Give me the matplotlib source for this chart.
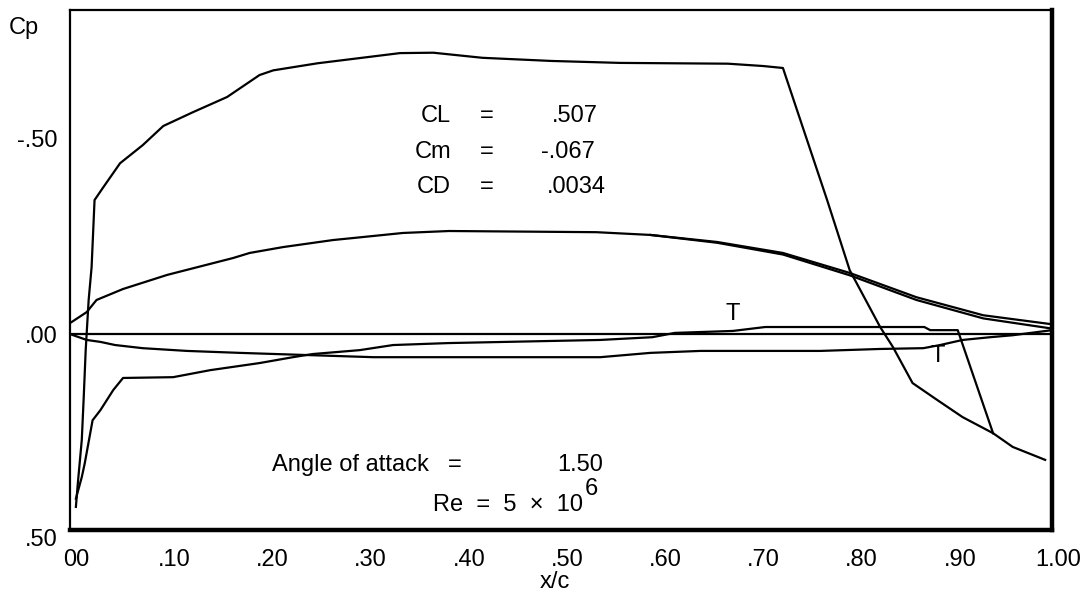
import matplotlib
matplotlib.use('Agg')
import matplotlib.pyplot as plt
import matplotlib.transforms as mtransforms

plt.rcParams['font.family'] = ['Liberation Sans', 'DejaVu Sans']

# upper surface Cp
x_cp_up = [0.006, 0.008, 0.012, 0.014, 0.016, 0.019, 0.022, 0.025, 0.034, 0.051,
           0.074, 0.095, 0.125, 0.16, 0.193, 0.207, 0.252, 0.336, 0.37, 0.42,
           0.49, 0.56, 0.67, 0.706, 0.726, 0.771, 0.794, 0.825, 0.838, 0.858,
           0.883, 0.909, 0.94, 0.96, 0.993]
cp_up = [0.441, 0.38, 0.27, 0.16, 0.04, -0.087, -0.171, -0.342, -0.375, -0.436,
         -0.482, -0.531, -0.566, -0.605, -0.661, -0.673, -0.691, -0.717, -0.718, -0.705,
         -0.697, -0.692, -0.690, -0.684, -0.679, -0.342, -0.163, -0.018, 0.033, 0.125,
         0.168, 0.212, 0.253, 0.288, 0.321]

# lower surface Cp
x_cp_lo = [0.006, 0.012, 0.015, 0.023, 0.031, 0.044, 0.054, 0.105, 0.143, 0.193,
           0.227, 0.247, 0.295, 0.329, 0.385, 0.54, 0.593, 0.616, 0.675, 0.708,
           0.87, 0.876, 0.904, 0.94]
cp_lo = [0.42, 0.365, 0.33, 0.22, 0.194, 0.143, 0.112, 0.11, 0.092, 0.074,
         0.059, 0.051, 0.041, 0.028, 0.023, 0.015, 0.008, -0.003, -0.008, -0.018,
         -0.018, -0.01, -0.01, 0.253]

# airfoil upper contour (plotted on Cp scale)
x_surf_up = [0.0, 0.017, 0.027, 0.054, 0.099, 0.166, 0.183, 0.217, 0.268, 0.288,
             0.339, 0.386, 0.536, 0.591, 0.659, 0.726, 0.794, 0.862, 0.93, 1.0]
y_surf_up = [-0.028, -0.056, -0.087, -0.115, -0.151, -0.194, -0.207, -0.222, -0.240, -0.245,
             -0.258, -0.263, -0.260, -0.253, -0.235, -0.207, -0.156, -0.094, -0.048, -0.025]

# upper contour + displacement thickness
x_dstar_up = [0.591, 0.659, 0.726, 0.794, 0.862, 0.93, 1.0]
y_dstar_up = [-0.253, -0.233, -0.203, -0.150, -0.087, -0.040, -0.014]

# airfoil lower contour
x_surf_lo = [0.0, 0.017, 0.031, 0.046, 0.074, 0.119, 0.173, 0.247, 0.309, 0.54,
             0.591, 0.642, 0.764, 0.825, 0.869, 0.886, 0.909, 0.937, 0.96, 1.0]
y_surf_lo = [0.0, 0.015, 0.020, 0.028, 0.036, 0.043, 0.048, 0.054, 0.059, 0.059,
             0.048, 0.043, 0.043, 0.038, 0.036, 0.028, 0.015, 0.008, 0.003, -0.01]

# transition points
trans_x = [0.675, 0.884]
trans_y = [-0.022, 0.028]

xticks = [0.0, 0.1, 0.2, 0.3, 0.4, 0.5, 0.6, 0.7, 0.8, 0.9, 1.0]
xticklabels = ['00', '.10', '.20', '.30', '.40', '.50', '.60', '.70', '.80', '.90', '1.00']
yticks = [-0.5, 0.0, 0.5]
yticklabels = ['-.50', '.00', '.50']

W, H = 1089, 598
fs = 17
fig = plt.figure(figsize=(W / 100, H / 100), dpi=100)
ax = fig.add_axes([70 / W, 1 - 530 / H, 982 / W, 520 / H])

lw = 1.6
ax.axhline(0.0, color='black', lw=lw)
ax.plot(x_cp_up, cp_up, color='black', lw=lw)
ax.plot(x_cp_lo, cp_lo, color='black', lw=lw)
ax.plot(x_surf_up, y_surf_up, color='black', lw=lw)
ax.plot(x_dstar_up, y_dstar_up, color='black', lw=lw)
ax.plot(x_surf_lo, y_surf_lo, color='black', lw=lw)

ax.text(trans_x[0], trans_y[0], 'T', ha='center', va='bottom', fontsize=fs)
ax.text(trans_x[1], trans_y[1], 'T', ha='center', va='top', fontsize=fs)

ax.set_xlim(0, 1.0)
ax.set_ylim(0.5, -0.827)

ax.set_xticks(xticks)
ax.set_xticklabels(xticklabels, fontsize=fs)
ax.set_yticks(yticks)
ax.set_yticklabels(yticklabels, fontsize=fs)
ax.tick_params(length=0)
ax.tick_params(axis='x', pad=14)
ax.tick_params(axis='y', pad=9)

shift = mtransforms.ScaledTranslation(6 / 100, 0, fig.dpi_scale_trans)
for lab in ax.get_xticklabels():
    lab.set_transform(lab.get_transform() + shift)
down = mtransforms.ScaledTranslation(0, -7 / 100, fig.dpi_scale_trans)
ylabs = ax.get_yticklabels()
ylabs[2].set_transform(ylabs[2].get_transform() + down)

for side in ['top', 'left']:
    ax.spines[side].set_linewidth(1.6)
for side in ['bottom', 'right']:
    ax.spines[side].set_linewidth(3.2)

def ft(px, py, s, **kw):
    fig.text(px / W, 1 - py / H, s, va='center', fontsize=fs, **kw)

ft(24, 28, 'Cp', ha='center')
ft(555, 582, 'x/c', ha='center')

ft(451, 116, 'CL', ha='right')
ft(487, 116, '=', ha='center')
ft(552, 116, '.507', ha='left')
ft(451, 152, 'Cm', ha='right')
ft(487, 152, '=', ha='center')
ft(541, 152, '-.067', ha='left')
ft(451, 187, 'CD', ha='right')
ft(487, 187, '=', ha='center')
ft(547, 187, '.0034', ha='left')

ft(272, 465, 'Angle of attack', ha='left')
ft(455, 465, '=', ha='center')
ft(603, 465, '1.50', ha='right')
ft(583, 505, 'Re  =  5  \u00d7  10', ha='right')
ft(585, 489, '6', ha='left')

fig.savefig('out.png', dpi=100)
